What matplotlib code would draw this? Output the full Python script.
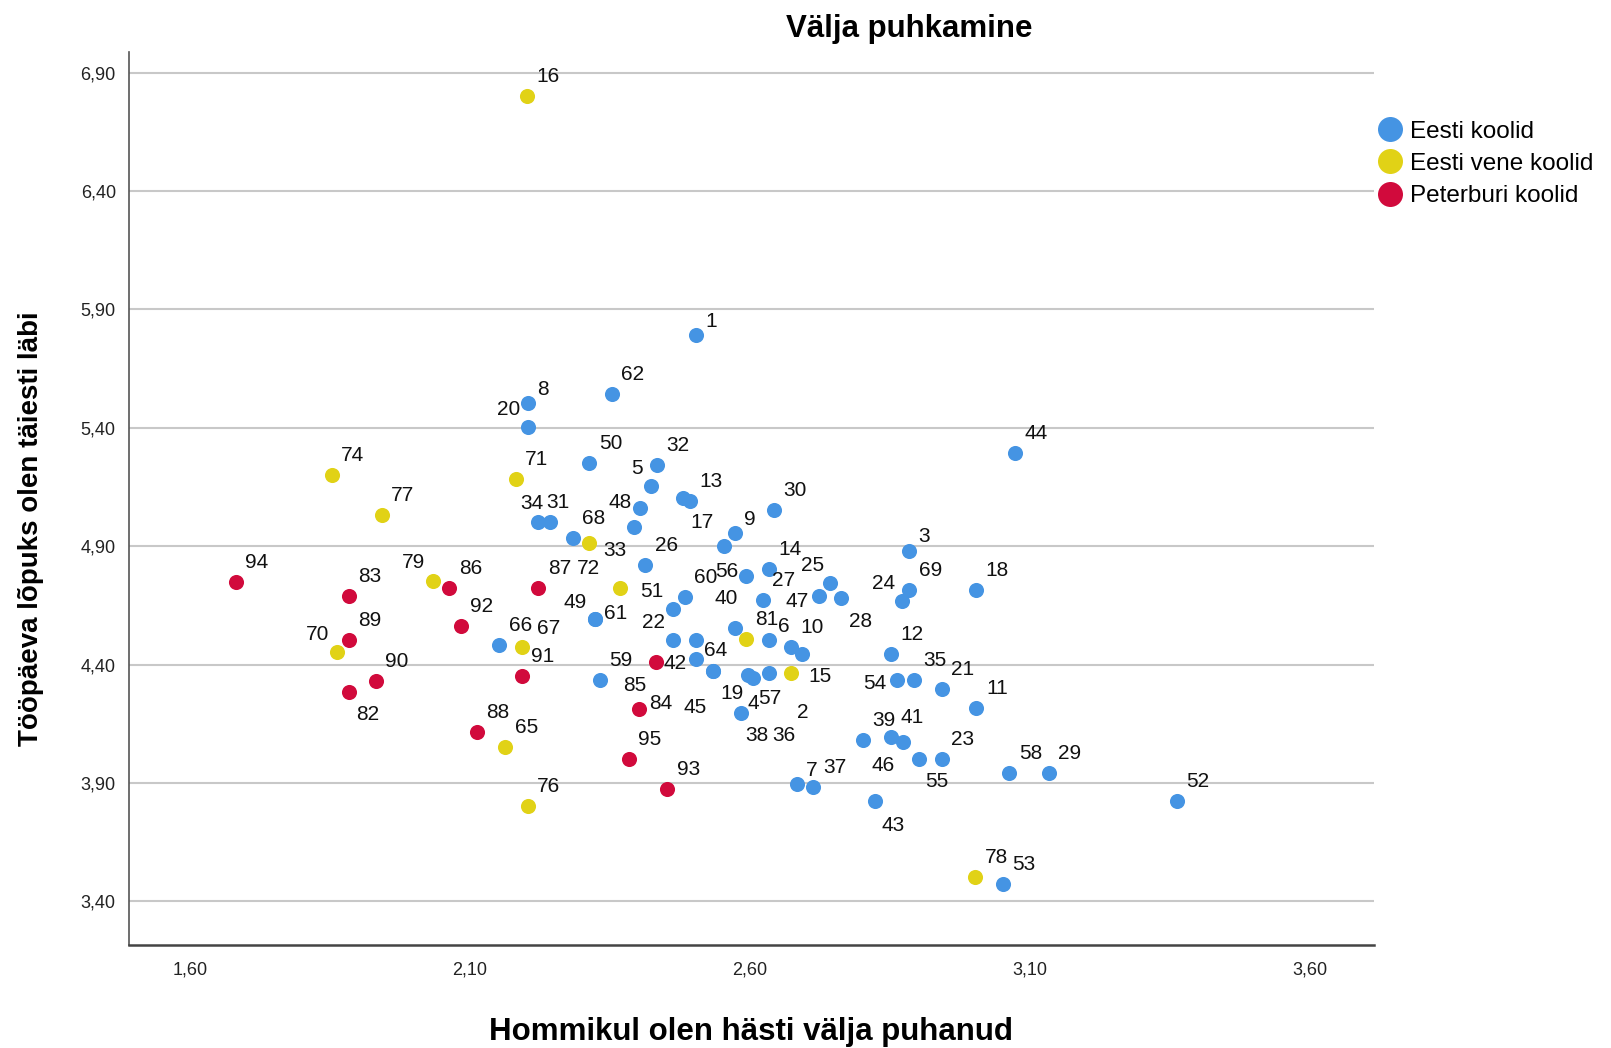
import matplotlib.pyplot as plt
from matplotlib.lines import Line2D
from matplotlib.ticker import FixedLocator, FuncFormatter

plt.rcParams['font.family'] = ['Liberation Sans', 'DejaVu Sans']

groups = ["Eesti koolid", "Eesti vene koolid", "Peterburi koolid"]
colors = ["#4594e3", "#e1d216", "#d10a3c"]

# Eesti koolid ("" = point without a visible label)
eesti_id = ["1", "62", "8", "20", "50", "32", "5", "17", "13", "48", "", "34", "31", "68", "26", "",
            "9", "30", "56", "14", "60", "51", "27", "47", "25", "28", "40", "6", "10", "2", "22", "64",
            "42", "19", "45", "4", "36", "57", "38", "49", "61", "59", "66", "7", "37", "3", "69", "24",
            "18", "12", "54", "35", "21", "11", "39", "41", "46", "55", "23", "58", "29", "43", "52", "53", "44"]
eesti_x = [2.503, 2.353, 2.203, 2.203, 2.313, 2.433, 2.423, 2.481, 2.493, 2.404, 2.393, 2.222, 2.243, 2.283, 2.413, 2.554,
           2.573, 2.642, 2.593, 2.633, 2.484, 2.463, 2.623, 2.723, 2.743, 2.763, 2.573, 2.633, 2.673, 2.693, 2.463, 2.504,
           2.504, 2.533, 2.533, 2.597, 2.605, 2.633, 2.583, 2.323, 2.323, 2.332, 2.152, 2.683, 2.713, 2.883, 2.884, 2.872,
           3.003, 2.852, 2.863, 2.893, 2.942, 3.003, 2.802, 2.852, 2.873, 2.902, 2.942, 3.063, 3.133, 2.823, 3.362, 3.052, 3.073]
eesti_y = [5.792, 5.541, 5.503, 5.402, 5.252, 5.243, 5.154, 5.104, 5.092, 5.062, 4.982, 5.001, 5.001, 4.933, 4.820, 4.900,
           4.954, 5.053, 4.774, 4.802, 4.684, 4.633, 4.672, 4.690, 4.743, 4.682, 4.553, 4.503, 4.475, 4.443, 4.503, 4.503,
           4.422, 4.372, 4.372, 4.355, 4.342, 4.363, 4.196, 4.591, 4.591, 4.334, 4.482, 3.895, 3.881, 4.881, 4.715, 4.668,
           4.715, 4.443, 4.334, 4.334, 4.295, 4.215, 4.081, 4.092, 4.071, 4.001, 4.001, 3.943, 3.943, 3.823, 3.823, 3.472, 5.292]

# Eesti vene koolid
vene_id = ["16", "74", "71", "77", "33", "72", "79", "70", "67", "65", "76", "81", "15", "78"]
vene_x = [2.202, 1.853, 2.182, 1.942, 2.312, 2.368, 2.033, 1.862, 2.192, 2.163, 2.203, 2.593, 2.673, 3.002]
vene_y = [6.804, 5.200, 5.182, 5.031, 4.913, 4.722, 4.753, 4.451, 4.472, 4.053, 3.803, 4.506, 4.363, 3.501]

# Peterburi koolid
peter_id = ["94", "83", "86", "87", "92", "89", "91", "90", "82", "88", "85", "84", "95", "93"]
peter_x = [1.682, 1.883, 2.063, 2.222, 2.083, 1.883, 2.192, 1.932, 1.883, 2.112, 2.432, 2.402, 2.383, 2.452]
peter_y = [4.750, 4.690, 4.722, 4.722, 4.562, 4.503, 4.352, 4.331, 4.282, 4.113, 4.412, 4.211, 4.001, 3.873]

x_ticks = [1.60, 2.10, 2.60, 3.10, 3.60]
y_ticks = [3.40, 3.90, 4.40, 4.90, 5.40, 5.90, 6.40, 6.90]

# label centre offsets in pixels (right, down) where the label is not up-right of its point
label_offsets = {
    "33": (26.5, 5.3), "72": (-31.7, -21.6), "79": (-19, -20), "70": (-19.4, -19.6), "67": (26.6, -20.6),
    "15": (28.6, 1.7), "82": (19, 20.4), "85": (-21, 22), "84": (21.4, -7.6),
    "20": (-19.4, -20), "5": (-13.7, -19.3), "17": (18.4, 22.3), "48": (-20.7, -7), "34": (-6.7, -20.6),
    "31": (7.7, -21.6), "56": (-19.3, -6.7), "51": (-21.6, -20), "47": (-22, 4), "25": (-18, -20),
    "28": (19, 21.3), "40": (-8.3, -31.6), "2": (1, 55.7), "22": (-20, -20), "64": (19, 8.3),
    "42": (-21, 2.4), "19": (19, 20.7), "45": (-17.7, 34), "4": (5, 26.7), "36": (30.6, 55),
    "57": (1, 23.4), "38": (16, 20.6), "49": (-20, -19.3), "61": (21, -7.6), "54": (-22.3, 1.7),
    "24": (-19, -19.3), "46": (-19.4, 21), "55": (18, 21), "43": (18.3, 22.3),
}

W, H = 1611, 1048
PX = 0.72  # points per pixel at dpi 100


def put_labels(ax, ids, xs, ys):
    for i, x, y in zip(ids, xs, ys):
        if not i:
            continue
        dx, dy = label_offsets.get(i, (15, -16) if len(i) == 1 else (21, -21.5))
        ax.annotate(i, (x, y), xytext=(dx * PX, -(dy + 7.5) * PX), textcoords="offset points",
                    ha="center", va="baseline", fontsize=15, color="#111111")


fig = plt.figure(figsize=(W / 100, H / 100), dpi=100)
ax = fig.add_axes([129 / W, 1 - 945 / H, (1374 - 129) / W, (945 - 51.5) / H])

series = [(eesti_id, eesti_x, eesti_y), (vene_id, vene_x, vene_y), (peter_id, peter_x, peter_y)]
assert all(len(a) == len(b) == len(c) for a, b, c in series)

for (ids, xs, ys), c in zip(series, colors):
    ax.scatter(xs, ys, s=118, color=c, linewidths=0, zorder=3)
for ids, xs, ys in series:
    put_labels(ax, ids, xs, ys)

ax.set_xlim(1.491, 3.714)
ax.set_ylim(3.215, 6.99)
ax.xaxis.set_major_locator(FixedLocator(x_ticks))
ax.yaxis.set_major_locator(FixedLocator(y_ticks))
fmt = FuncFormatter(lambda v, p: f"{v:.2f}".replace(".", ","))
ax.xaxis.set_major_formatter(fmt)
ax.yaxis.set_major_formatter(fmt)
ax.tick_params(length=0, labelsize=13, colors="#222222")
ax.tick_params(axis="y", pad=9.5)
ax.tick_params(axis="x", pad=12)

ax.grid(axis="y", color="#c8c8c8", linewidth=1.5)
ax.set_axisbelow(True)
for s in ["top", "right"]:
    ax.spines[s].set_visible(False)
ax.spines["left"].set_color("#555555")
ax.spines["left"].set_linewidth(1.2)
ax.spines["bottom"].set_color("#444444")
ax.spines["bottom"].set_linewidth(1.8)

fig.text(909 / W, 1 - 29 / H, "Välja puhkamine", ha="center", va="center", fontsize=22.5, fontweight="bold")
fig.text(751 / W, 1 - 1032 / H, "Hommikul olen hästi välja puhanud", ha="center", va="center",
         fontsize=22.5, fontweight="bold")
fig.text(31 / W, 1 - 529 / H, "Tööpäeva lõpuks olen täiesti läbi", ha="center", va="center",
         rotation=90, fontsize=20, fontweight="bold")

handles = [Line2D([], [], marker="o", linestyle="none", markersize=18, markerfacecolor=c,
                  markeredgewidth=0) for c in colors]
fig.legend(handles, groups, loc="upper left", bbox_to_anchor=(1378 / W, 1 - 120.5 / H), frameon=False,
           fontsize=17.5, handlelength=1.0, handletextpad=0.3, labelspacing=0.43, borderpad=0,
           borderaxespad=0)

fig.savefig("out.png", dpi=100)
